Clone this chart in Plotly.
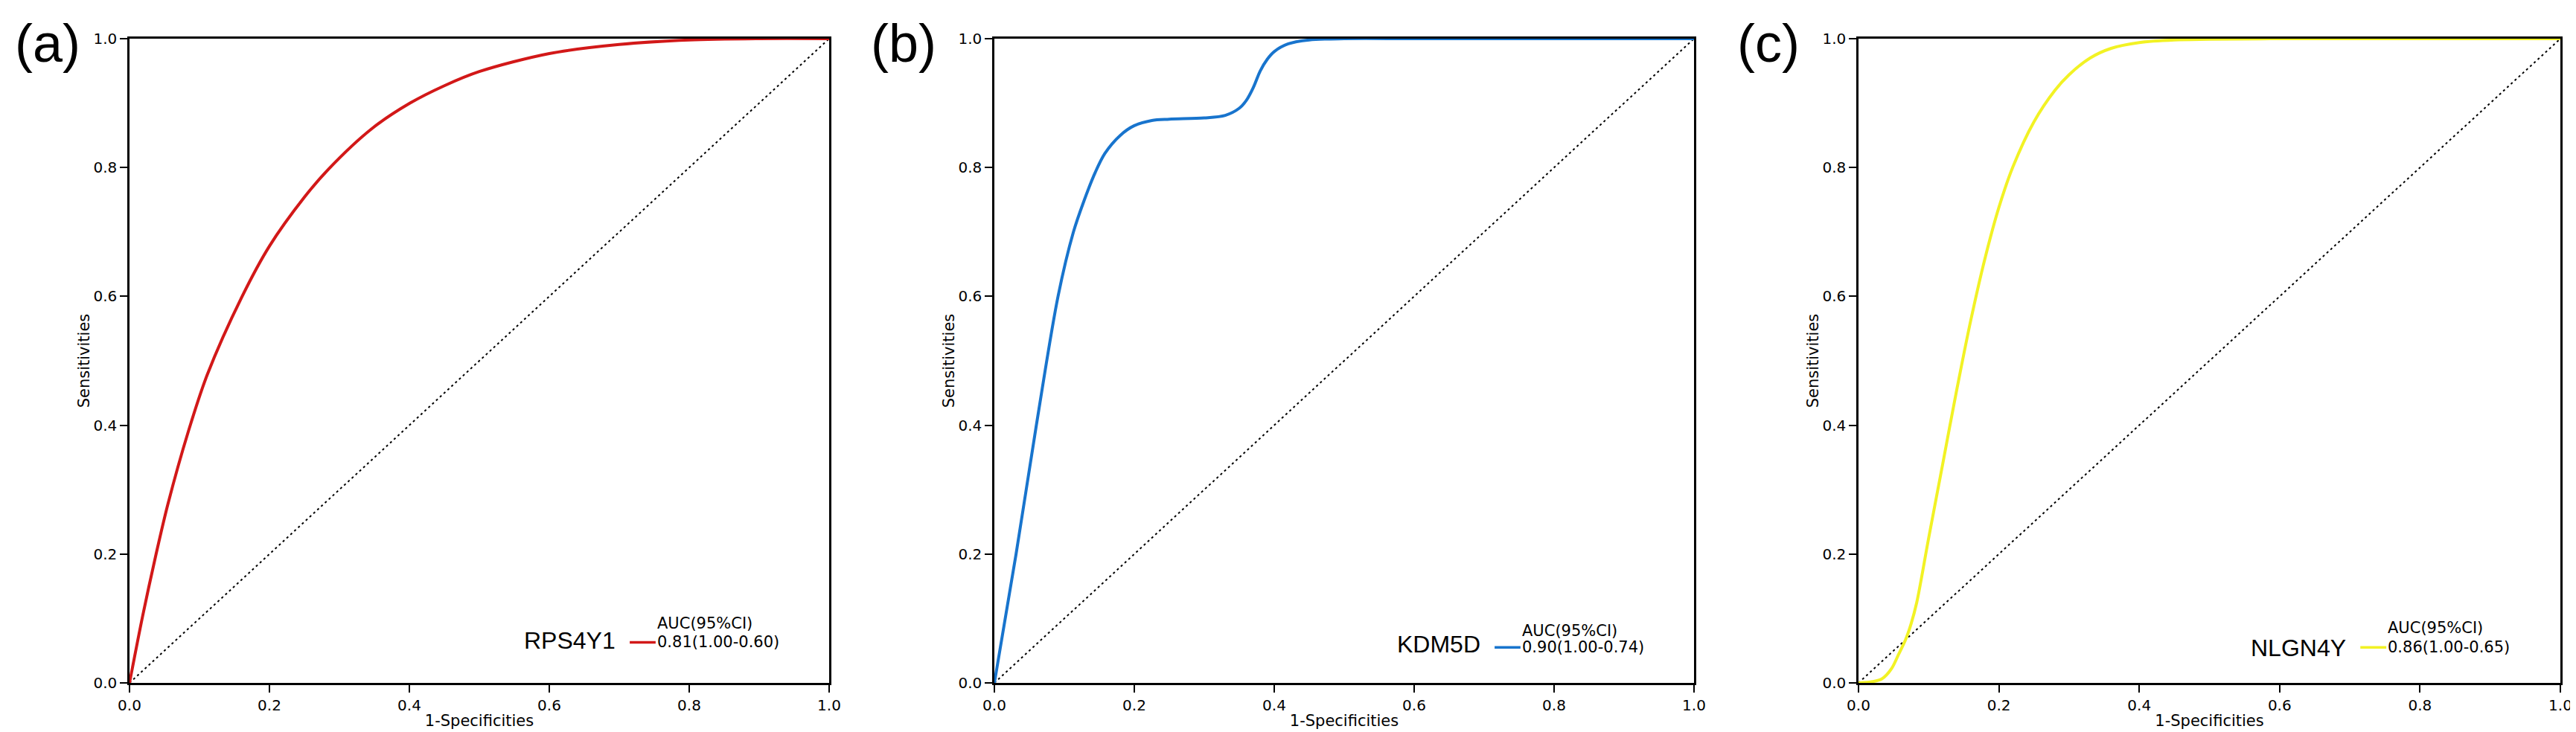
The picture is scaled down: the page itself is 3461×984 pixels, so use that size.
"""Three smoothed ROC curves (RPS4Y1, KDM5D, NLGN4Y) side by side, R base-plot look."""
import plotly.graph_objects as go

W, H = 3461, 984

GENES = ["RPS4Y1", "KDM5D", "NLGN4Y"]
TAGS = ["(a)", "(b)", "(c)"]
AUC_LABEL = "AUC(95%CI)"
AUC_TEXT = ["0.81(1.00-0.60)", "0.90(1.00-0.74)", "0.86(1.00-0.65)"]
TICKS = [0.0, 0.2, 0.4, 0.6, 0.8, 1.0]

# curves: 1-specificity (x) vs sensitivity (y)
RPS4Y1_X = [0, 0.019, 0.038, 0.055, 0.084, 0.111, 0.161, 0.2, 0.25, 0.284,
            0.346, 0.401, 0.45, 0.5, 0.6, 0.7, 0.8, 0.9, 1.0]
RPS4Y1_Y = [0, 0.105, 0.2, 0.278, 0.39, 0.478, 0.6, 0.678, 0.754, 0.797,
            0.86, 0.9, 0.927, 0.949, 0.977, 0.991, 0.998, 1.0, 1.0]

KDM5D_X = [0, 0.031, 0.060, 0.091, 0.113, 0.128, 0.144, 0.158, 0.180, 0.2,
           0.225, 0.25, 0.3, 0.33, 0.35, 0.36, 0.37, 0.38, 0.39, 0.4,
           0.42, 0.45, 0.5, 0.6, 0.8, 1.0]
KDM5D_Y = [0, 0.2, 0.4, 0.6, 0.7, 0.748, 0.792, 0.822, 0.85, 0.865,
           0.873, 0.875, 0.877, 0.881, 0.892, 0.904, 0.924, 0.95, 0.968, 0.98,
           0.992, 0.998, 1.0, 1.0, 1.0, 1.0]

NLGN4Y_X = [0, 0.02, 0.033, 0.047, 0.057, 0.067, 0.075, 0.083, 0.1, 0.12,
            0.14, 0.16, 0.18, 0.2, 0.22, 0.25, 0.28, 0.3, 0.33, 0.36,
            0.4, 0.45, 0.5, 0.6, 0.8, 1.0]
NLGN4Y_Y = [0, 0.002, 0.006, 0.022, 0.044, 0.067, 0.092, 0.125, 0.225, 0.34,
            0.455, 0.563, 0.658, 0.738, 0.801, 0.871, 0.92, 0.944, 0.97, 0.985,
            0.994, 0.998, 0.999, 1.0, 1.0, 1.0]

CURVES = [(RPS4Y1_X, RPS4Y1_Y), (KDM5D_X, KDM5D_Y), (NLGN4Y_X, NLGN4Y_Y)]
COLORS = ["#D21818", "#1874CD", "#F2F224"]

INK = "#000000"
DEJAVU = "DejaVu Sans"
ARIAL = "Liberation Sans, Arial"

# panel geometry in page pixels
LEFT = [166, 1328, 2489]
WIDTH = [940, 940, 943]
TOP, BOTTOM = 44, 910
TAG_X = [56, 1206, 2368]
# legend rows (axis-domain fractions), per panel: gene / label / value
LEG_Y = [(0.066, 0.092, 0.063), (0.060, 0.081, 0.055), (0.054, 0.085, 0.055)]

fig = go.Figure()
ydom = [(H - BOTTOM) / H, (H - TOP) / H]

for i, (gene, (xs, ys), color) in enumerate(zip(GENES, CURVES, COLORS)):
    n = "" if i == 0 else str(i + 1)
    xa, ya = f"x{n}", f"y{n}"
    fig.add_trace(go.Scatter(x=[0, 1], y=[0, 1], mode="lines", xaxis=xa, yaxis=ya,
                             line={"color": INK, "width": 2, "dash": "3px,4px"},
                             showlegend=False, hoverinfo="skip"))
    fig.add_trace(go.Scatter(x=xs, y=ys, mode="lines", xaxis=xa, yaxis=ya,
                             line={"color": color, "width": 4, "shape": "spline",
                                   "smoothing": 0.9},
                             showlegend=False, name=gene))

    axis = dict(range=[0, 1], tickvals=TICKS, tickformat=".1f", ticks="outside",
                ticklen=10, tickwidth=2, tickcolor=INK, showline=True, linecolor=INK,
                linewidth=2.5, mirror=True, showgrid=False, zeroline=False,
                automargin=False,
                tickfont={"family": DEJAVU, "size": 20, "color": INK})
    x0 = LEFT[i] / W
    x1 = (LEFT[i] + WIDTH[i]) / W
    fig.layout[f"xaxis{n}"] = dict(axis, domain=[x0, x1], anchor=ya,
                                   title={"text": "1-Specificities", "standoff": 3,
                                          "font": {"family": DEJAVU, "size": 21,
                                                   "color": INK}})
    fig.layout[f"yaxis{n}"] = dict(axis, domain=ydom, anchor=xa,
                                   title={"text": "Sensitivities", "standoff": 0,
                                          "font": {"family": DEJAVU, "size": 21,
                                                   "color": INK}})

    gy, ly, vy = LEG_Y[i]
    xd, yd = f"{xa} domain", f"{ya} domain"
    fig.add_annotation(x=0.697, y=gy, xref=xd, yref=yd, text=gene, showarrow=False,
                       xanchor="right", yanchor="middle",
                       font={"family": ARIAL, "size": 32, "color": INK})
    fig.add_shape(type="line", x0=0.715, x1=0.752, y0=vy, y1=vy, xref=xd, yref=yd,
                  line={"color": color, "width": 3.5})
    fig.add_annotation(x=0.752, y=ly, xref=xd, yref=yd, text=AUC_LABEL, showarrow=False,
                       xanchor="left", yanchor="middle",
                       font={"family": DEJAVU, "size": 21, "color": INK})
    fig.add_annotation(x=0.752, y=vy, xref=xd, yref=yd, text=AUC_TEXT[i], showarrow=False,
                       xanchor="left", yanchor="middle",
                       font={"family": DEJAVU, "size": 21, "color": INK})
    fig.add_annotation(x=TAG_X[i] / W, y=(H - 50) / H, xref="paper", yref="paper",
                       text=TAGS[i], showarrow=False, xanchor="center", yanchor="middle",
                       font={"family": ARIAL, "size": 72, "color": INK})

fig.update_layout(width=W, height=H, margin={"l": 0, "r": 0, "t": 0, "b": 0,
                                             "autoexpand": False},
                  paper_bgcolor="white", plot_bgcolor="white", showlegend=False,
                  font={"color": INK})

fig.write_html("out.html")
